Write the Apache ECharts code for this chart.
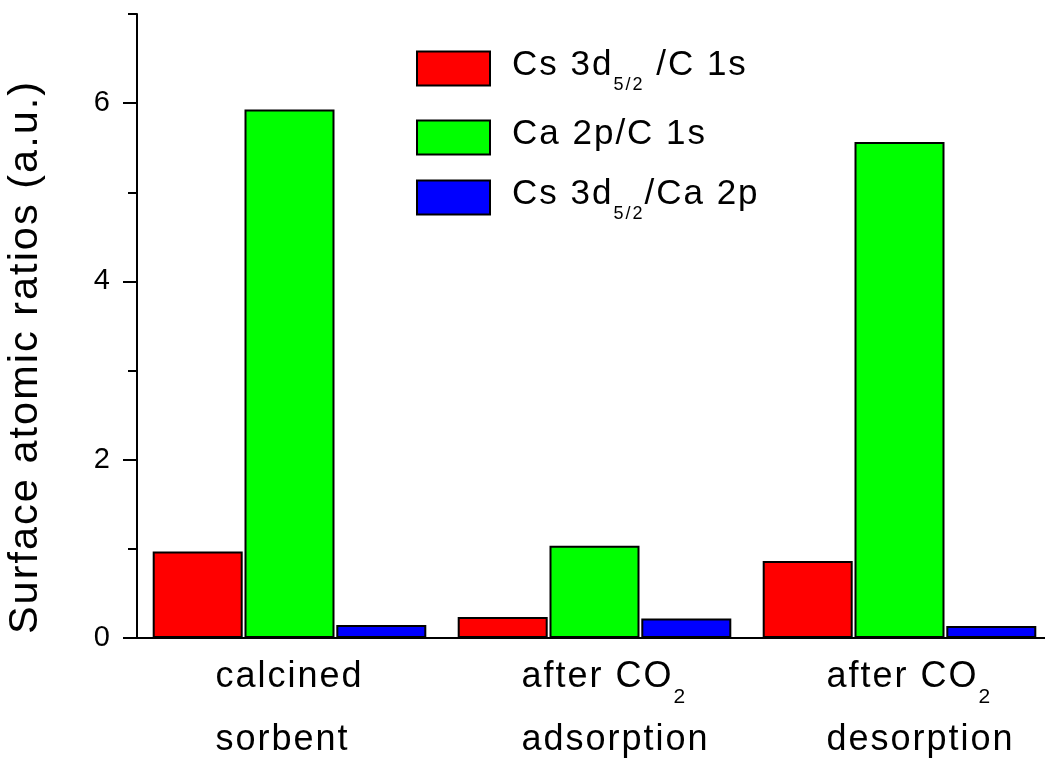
<!DOCTYPE html>
<html><head><meta charset="utf-8">
<script src="https://cdn.jsdelivr.net/npm/echarts@6.0.0/dist/echarts.min.js"></script>
<style>html,body{margin:0;padding:0;background:#fff}#main{width:1045px;height:761px}</style>
</head><body><div id="main"></div>
<script>
// ---- data ----
const categories = ['calcined\nsorbent', 'after CO2\nadsorption', 'after CO2\ndesorption'];
const seriesNames = ['Cs 3d5/2 /C 1s', 'Ca 2p/C 1s', 'Cs 3d5/2/Ca 2p'];
const csOverC = [0.97, 0.235, 0.865];
const caOverC = [5.93, 1.035, 5.565];
const csOverCa = [0.145, 0.22, 0.135];
const yMajorTicks = [0, 2, 4, 6];
const yMinorTicks = [1, 3, 5, 7];
const yTitle = 'Surface atomic ratios (a.u.)';

// ---- style ----
const FF = '"Liberation Sans", Arial, Helvetica, sans-serif';
const colors = ['#ff0000', '#00ff00', '#0000ff'];
const LS = '2px';

// wide tracking like the original (applied to drawing and measuring alike)
(function () {
  const proto = CanvasRenderingContext2D.prototype;
  const f = proto.fillText, s = proto.strokeText;
  proto.fillText = function () { this.letterSpacing = LS; return f.apply(this, arguments); };
  proto.strokeText = function () { this.letterSpacing = LS; return s.apply(this, arguments); };
  const mctx = document.createElement('canvas').getContext('2d');
  if (echarts.setPlatformAPI) {
    echarts.setPlatformAPI({
      measureText: function (text, font) {
        mctx.font = font || '12px sans-serif';
        mctx.letterSpacing = LS;
        return mctx.measureText(text);
      }
    });
  }
})();

const chart = echarts.init(document.getElementById('main'), null, { renderer: 'canvas' });

function catFormatter(value, idx) {
  const st = idx === 0 ? 'c' : 'cp';
  return value.split('\n').map(function (line) {
    const parts = line.split('CO2');
    if (parts.length > 1) {
      return '{' + st + '|' + parts[0] + 'CO}{s|2}' + (parts[1] ? '{c|' + parts[1] + '}' : '');
    }
    return '{' + st + '|' + line + '}';
  }).join('\n');
}
function legendFormatter(name) {
  const p = name.split('5/2');
  if (p.length > 1) return '{n|' + p[0] + '}{u|5/2}' + (p[1] ? '{n|' + p[1] + '}' : '');
  return '{n|' + name + '}';
}

const seriesData = [csOverC, caOverC, csOverCa];
const axisLineStyle = { color: '#000', width: 2 };

const option = {
  animation: false,
  backgroundColor: '#fff',
  grid: { left: 137, top: 14, width: 915, height: 624, outerBoundsMode: 'none', containLabel: false },
  legend: {
    orient: 'vertical', left: 416, top: 47, padding: 0,
    itemWidth: 73, itemHeight: 34, itemGap: 20.5, icon: 'rect',
    selectedMode: false,
    data: seriesNames,
    formatter: legendFormatter,
    itemStyle: { borderColor: '#000', borderWidth: 2 },
    textStyle: {
      color: '#000', fontFamily: FF, fontSize: 35, padding: [0, 0, 6, 17],
      rich: {
        n: { fontSize: 35, lineHeight: 60, fontFamily: FF, color: '#000' },
        u: { fontSize: 18, lineHeight: 1, verticalAlign: 'bottom', fontFamily: FF, color: '#000' }
      }
    }
  },
  xAxis: [
    {
      type: 'category', position: 'bottom', data: categories,
      axisLine: { lineStyle: axisLineStyle },
      axisTick: { alignWithLabel: true, length: 14, lineStyle: axisLineStyle },
      splitLine: { show: false },
      axisLabel: {
        margin: 8, color: '#000', fontFamily: FF, fontSize: 36, interval: 0,
        formatter: catFormatter,
        rich: {
          c: { fontSize: 36, lineHeight: 63, align: 'left', fontFamily: FF, color: '#000' },
          cp: { fontSize: 36, lineHeight: 63, align: 'left', fontFamily: FF, color: '#000', padding: [0, 0, 0, 42] },
          s: { fontSize: 21, lineHeight: 27, verticalAlign: 'bottom', align: 'left', fontFamily: FF, color: '#000' }
        }
      }
    },
    {
      type: 'category', position: 'top', data: categories,
      axisLine: { lineStyle: axisLineStyle },
      axisTick: { alignWithLabel: true, inside: true, length: 3, lineStyle: axisLineStyle },
      axisLabel: { show: false },
      splitLine: { show: false }
    }
  ],
  yAxis: [
    {
      type: 'value', position: 'left', min: 0, max: 7, interval: 1,
      axisLine: { show: true, lineStyle: axisLineStyle },
      axisTick: { show: true, length: 14, lineStyle: axisLineStyle, customValues: yMajorTicks },
      splitLine: { show: false },
      axisLabel: {
        customValues: yMajorTicks, margin: 25, color: '#000', fontFamily: FF, fontSize: 29,
        padding: [0, 0, 11, 0]
      }
    },
    {
      type: 'value', position: 'left', min: 0, max: 7, interval: 1,
      axisLine: { show: false },
      axisTick: { show: true, length: 9, lineStyle: axisLineStyle, customValues: yMinorTicks },
      splitLine: { show: false },
      axisLabel: { show: false }
    }
  ],
  graphic: [{
    type: 'text', x: 26, y: 357, rotation: Math.PI / 2,
    style: { text: yTitle, fontFamily: FF, fontSize: 41.5, fill: '#000', align: 'center', verticalAlign: 'middle' }
  }],
  series: seriesNames.map(function (name, i) {
    return {
      name: name, type: 'bar', xAxisIndex: 0, yAxisIndex: 0,
      data: seriesData[i],
      barWidth: 90, barGap: '2%',
      itemStyle: { color: colors[i], borderColor: '#000', borderWidth: 2 }
    };
  })
};
chart.setOption(option);
</script>
</body></html>
